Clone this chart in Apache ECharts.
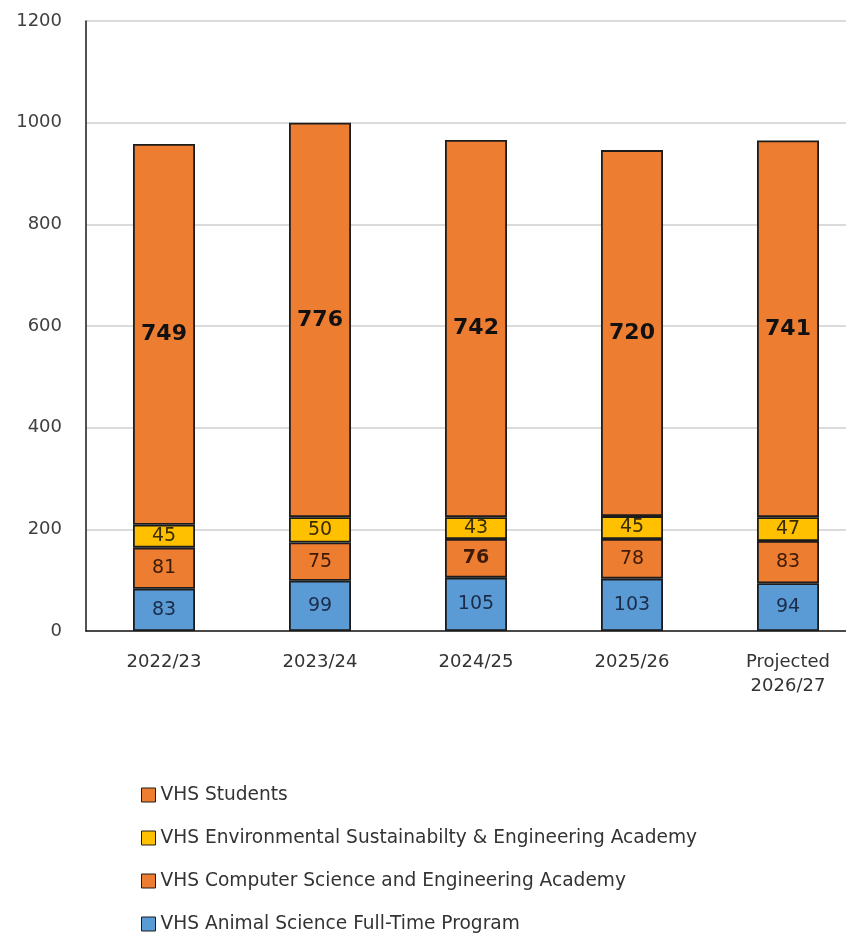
<!DOCTYPE html>
<html>
<head>
<meta charset="utf-8">
<script src="https://cdn.jsdelivr.net/npm/echarts@6/dist/echarts.min.js"></script>
<style>
html,body{margin:0;padding:0;background:#fff;}
#chart{width:846px;height:937px;}
</style>
</head>
<body>
<div id="chart"></div>
<script>
const categories = ['2022/23', '2023/24', '2024/25', '2025/26', 'Projected\n2026/27'];
const animalScience = [83, 99, 105, 103, 94];
const computerScience = [81, 75, 76, 78, 83];
const environmental = [45, 50, 43, 45, 47];
const vhsStudents = [749, 776, 742, 720, 741];
const yTicks = [0, 200, 400, 600, 800, 1000, 1200];

const FONT = '"DejaVu Sans", sans-serif';
const border = { borderColor: '#1c1c1c', borderWidth: 1.8 };

function seg(name, data, color, labelColor, big) {
  return {
    name: name,
    type: 'bar',
    stack: 'total',
    barWidth: 62,
    data: data,
    itemStyle: Object.assign({ color: color }, border),
    label: {
      show: true,
      position: 'inside',
      fontFamily: FONT,
      fontSize: big ? 22 : 19,
      fontWeight: big ? 'bold' : 'normal',
      color: labelColor
    }
  };
}

const chart = echarts.init(document.getElementById('chart'), null, { renderer: 'canvas' });
chart.setOption({
  animation: false,
  backgroundColor: '#ffffff',
  grid: { left: 86, top: 21, height: 610, width: 780, containLabel: false, outerBoundsMode: 'none' },
  xAxis: {
    type: 'category',
    data: categories,
    boundaryGap: true,
    axisLine: { show: true, lineStyle: { color: '#1a1a1a', width: 1.5 } },
    axisTick: { show: false },
    axisLabel: { fontFamily: FONT, fontSize: 18, color: '#333', margin: 19, lineHeight: 24, interval: 0 },
    splitLine: { show: false }
  },
  yAxis: {
    type: 'value',
    min: yTicks[0],
    max: yTicks[yTicks.length - 1],
    interval: 200,
    axisLine: { show: true, lineStyle: { color: '#1a1a1a', width: 1.5 } },
    axisTick: { show: false },
    axisLabel: { fontFamily: FONT, fontSize: 18, color: '#404040', margin: 24, formatter: function (v) { return String(v); } },
    splitLine: { show: true, lineStyle: { color: '#cfcfcf', width: 1.5 } }
  },
  legend: {
    orient: 'vertical',
    left: 141,
    top: 785,
    padding: 0,
    itemWidth: 14,
    itemHeight: 14,
    itemGap: 23,
    icon: 'rect',
    data: ['VHS Students', 'VHS Environmental Sustainabilty & Engineering Academy', 'VHS Computer Science and Engineering Academy', 'VHS Animal Science Full-Time Program'],
    itemStyle: { borderColor: '#1c1c1c', borderWidth: 1 },
    textStyle: { fontFamily: FONT, fontSize: 18.6, color: '#333', lineHeight: 20 }
  },
  series: [
    seg('VHS Animal Science Full-Time Program', animalScience, '#5B9BD5', '#1b2c4a', false),
    seg('VHS Computer Science and Engineering Academy', computerScience.map((v, i) => i === 2 ? { value: v, label: { fontWeight: 'bold' } } : v), '#ED7D31', '#3d1a06', false),
    seg('VHS Environmental Sustainabilty & Engineering Academy', environmental, '#FFC000', '#3a2c00', false),
    seg('VHS Students', vhsStudents, '#ED7D31', '#111111', true)
  ]
});
</script>
</body>
</html>
